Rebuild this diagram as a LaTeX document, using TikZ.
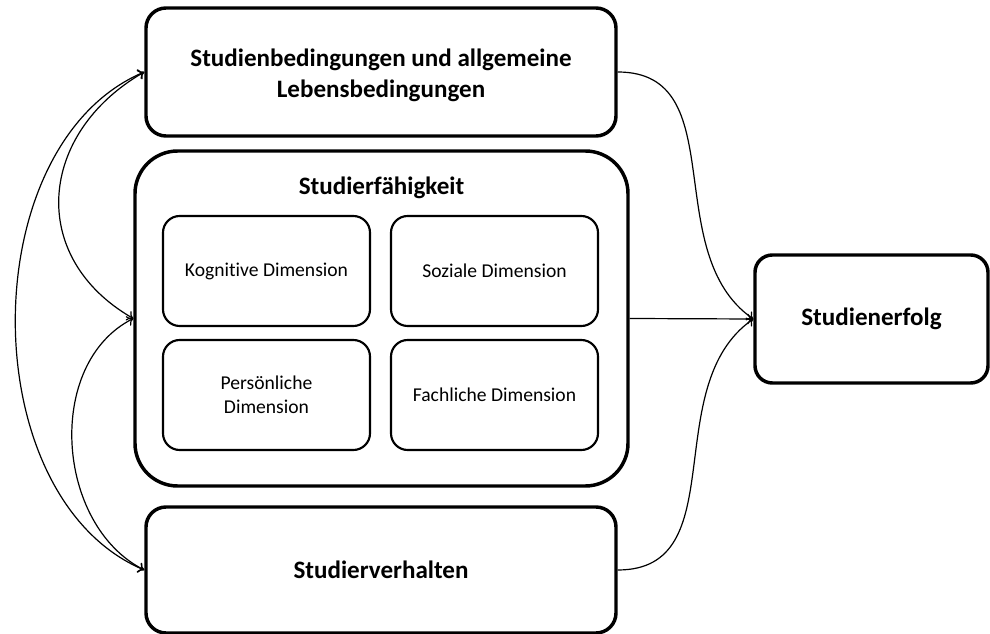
\documentclass[tikz,border=0pt]{standalone}
\usepackage{fontspec}
\setmainfont{Carlito}[Ligatures=NoCommon]
\usetikzlibrary{arrows.meta}
\begin{document}
\begin{tikzpicture}[x=0.75pt,y=-0.75pt,
  bigfont/.style={font=\fontsize{18.8pt}{23.25pt}\selectfont\bfseries},
  bigbox/.style={draw,line width=2.6pt,rounded corners=15pt,align=center,bigfont},
  frame/.style={draw,line width=2.6pt,rounded corners=32pt},
  dimbox/.style={draw,line width=1.6pt,rounded corners=12.5pt,align=center,
    minimum width=155.25pt,minimum height=82.5pt,
    font=\fontsize{14.7pt}{18pt}\selectfont},
  conn/.style={line width=0.9pt,arrows={-To[length=4.5pt,width=8pt]}},
  bconn/.style={line width=0.9pt,arrows={To[length=4.5pt,width=8pt]-To[length=4.5pt,width=8pt]}}]
\useasboundingbox (0,0) rectangle (990,634);
% main boxes
\node[bigbox,minimum width=352.5pt,minimum height=96pt] (top) at (381,72) {};
\node[align=center,bigfont] (toptext) at (381,75)
  {Studienbedingungen und allgemeine\\Lebensbedingungen};
\node[frame,minimum width=369.75pt,minimum height=251.25pt] (sf) at (381.5,318.5) {};
\node[anchor=base,bigfont] (sftitle) at (381.5,195) {Studierfähigkeit};
\node[dimbox] (kog) at (266.5,271) {Kognitive Dimension};
\node[dimbox] (soz) at (494.5,271) {Soziale Dimension};
\node[dimbox] (per) at (266.5,395) {Persönliche\\Dimension};
\node[dimbox] (fach) at (494.5,395) {Fachliche Dimension};
\node[bigbox,minimum width=352.5pt,minimum height=94.5pt] (bot) at (381,570) {Studierverhalten};
\node[bigbox,rounded corners=13pt,minimum width=174.75pt,minimum height=96pt] (erf) at (871.5,319) {Studienerfolg};
% left connectors
\draw[bconn] (top.west) to[out=210,in=150,looseness=1.27] (sf.west);
\draw[bconn] (top.west) to[out=203,in=157,looseness=0.96] (bot.west);
\draw[bconn] (sf.west) to[out=207,in=153,looseness=1.01] (bot.west);
% right connectors
\draw[conn] (top.east) to[out=0,in=145,looseness=1.05] (erf.west);
\draw[conn] (sf.east) -- (erf.west);
\draw[conn] (bot.east) to[out=0,in=215,looseness=1.05] (erf.west);
\end{tikzpicture}
\end{document}
